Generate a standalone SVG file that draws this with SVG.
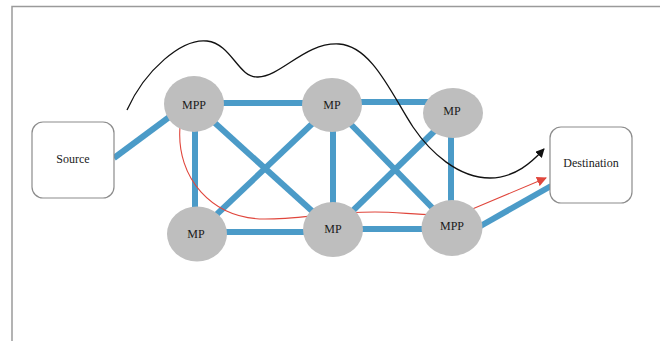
<svg xmlns="http://www.w3.org/2000/svg" width="660" height="341" viewBox="0 0 660 341">
  <style>
    .frame { fill: none; stroke: #9a9a9a; stroke-width: 1.5; }
    .link { stroke: #4b9bc8; stroke-width: 6; fill: none; }
    .node { fill: #bebebe; }
    .box { fill: #ffffff; stroke: #8c8c8c; stroke-width: 1.2; }
    .lbl { font-family: "Liberation Serif", "Times New Roman", serif; font-size: 12px; fill: #1a1a1a; text-anchor: middle; }
    .route { fill: none; stroke: #111111; stroke-width: 1.3; }
    .alt { fill: none; stroke: #e0463c; stroke-width: 1.1; }
  </style>
  <defs>
    <marker id="arrowBlack" viewBox="0 0 10 10" refX="9" refY="5" markerWidth="9" markerHeight="9" markerUnits="userSpaceOnUse" orient="auto">
      <path d="M0,0 L10,5 L0,10 z" fill="#111111"/>
    </marker>
    <marker id="arrowRed" viewBox="0 0 10 10" refX="9" refY="5" markerWidth="10" markerHeight="10" markerUnits="userSpaceOnUse" orient="auto">
      <path d="M0,0 L10,5 L0,10 z" fill="#e0463c"/>
    </marker>
  </defs>

  <rect width="660" height="341" fill="#ffffff"/>
  <path class="frame" d="M12,342 L12,6.5 L661,6.5"/>

  <!-- mesh links -->
  <g id="connectors">
    <line class="link" x1="114" y1="158" x2="172" y2="115"/>
    <line class="link" x1="194" y1="103" x2="332" y2="103"/>
    <line class="link" x1="332" y1="102" x2="453" y2="102"/>
    <line class="link" x1="195" y1="104" x2="195" y2="234"/>
    <line class="link" x1="333" y1="105" x2="333" y2="230"/>
    <line class="link" x1="451" y1="113" x2="451" y2="228"/>
    <line class="link" x1="196" y1="232" x2="333" y2="232"/>
    <line class="link" x1="333" y1="229" x2="452" y2="229"/>
    <line class="link" x1="194" y1="104" x2="333" y2="230"/>
    <line class="link" x1="196" y1="234" x2="332" y2="105"/>
    <line class="link" x1="332" y1="105" x2="452" y2="228"/>
    <line class="link" x1="453" y1="113" x2="333" y2="230"/>
    <line class="link" x1="470" y1="232" x2="551" y2="186"/>

    <!-- alternate path -->
    <path class="alt" marker-end="url(#arrowRed)" d="M180,127 C176,178 212,219 265,219 C300,219 330,212 375,212 C410,212 438,219 470,210 L546,178"/>
  </g>

  <!-- nodes -->
  <g id="source">
    <rect class="box" x="32" y="122" width="82" height="76" rx="11"/>
    <text class="lbl" x="73" y="163">Source</text>
  </g>
  <g id="destination">
    <rect class="box" x="550" y="127" width="82" height="76" rx="11"/>
    <text class="lbl" x="591" y="167">Destination</text>
  </g>
  <g id="mpp-1">
    <ellipse class="node" cx="194" cy="104" rx="30" ry="28"/>
    <text class="lbl" x="194" y="109">MPP</text>
  </g>
  <g id="mp-1">
    <ellipse class="node" cx="332" cy="105" rx="30" ry="27"/>
    <text class="lbl" x="332" y="109">MP</text>
  </g>
  <g id="mp-2">
    <ellipse class="node" cx="453" cy="113" rx="30" ry="25"/>
    <text class="lbl" x="452" y="115">MP</text>
  </g>
  <g id="mp-3">
    <ellipse class="node" cx="197" cy="234" rx="30" ry="27.5"/>
    <text class="lbl" x="196" y="238">MP</text>
  </g>
  <g id="mp-4">
    <ellipse class="node" cx="333" cy="229.5" rx="30" ry="27.5"/>
    <text class="lbl" x="333" y="233">MP</text>
  </g>
  <g id="mpp-2">
    <ellipse class="node" cx="452" cy="228" rx="30.5" ry="28"/>
    <text class="lbl" x="452" y="230">MPP</text>
  </g>

  <!-- main route -->
  <g id="route">
    <path class="route" marker-end="url(#arrowBlack)" d="M127,110 C145,70 182,38 207,41 C232,44 238,78 258,77 C282,76 305,42 339,44 C372,46 392,95 413,127 C430,152 458,178 490,178 C515,178 532,162 544,149"/>
  </g>
</svg>
